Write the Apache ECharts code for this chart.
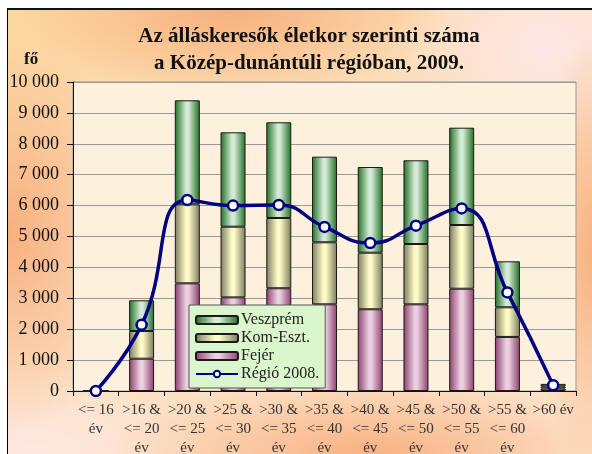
<!DOCTYPE html>
<html>
<head>
<meta charset="utf-8">
<script src="https://cdn.jsdelivr.net/npm/echarts@6/dist/echarts.min.js"></script>
<style>
  html, body { margin: 0; padding: 0; width: 592px; height: 454px; overflow: hidden; background: #fff; }
  #frame {
    position: absolute; left: 7px; top: 8px; width: 585px; height: 446px;
    box-sizing: border-box; border-left: 1px solid #000; border-top: 2px solid #111;
    background:
      radial-gradient(ellipse 140px 200px at 0% 50%, rgba(247,168,118,0.85), rgba(247,168,118,0) 100%),
      radial-gradient(ellipse 220px 90px at 38% 0%, rgba(248,168,118,0.85), rgba(248,168,118,0) 100%),
      radial-gradient(ellipse 260px 80px at 62% 100%, rgba(248,168,118,0.85), rgba(248,168,118,0) 100%),
      radial-gradient(ellipse 60px 220px at 100% 55%, rgba(248,172,120,0.9), rgba(248,172,120,0) 100%),
      radial-gradient(ellipse 160px 120px at 92% 8%, rgba(253,232,236,0.9), rgba(253,232,236,0) 100%),
      radial-gradient(ellipse 160px 90px at 5% 100%, rgba(253,232,228,0.9), rgba(253,232,228,0) 100%),
      linear-gradient(160deg, #fbd8a0 0%, #fce0c0 45%, #fce4cc 100%);
  }
  #chart { width: 584px; height: 444px; }
</style>
</head>
<body>
<div id="frame"><div id="chart"></div></div>
<script>
// adatok
const kategoriak = ['<= 16\név', '>16 &\n<= 20\név', '>20 &\n<= 25\név', '>25 &\n<= 30\név', '>30 &\n<= 35\név',
  '>35 &\n<= 40\név', '>40 &\n<= 45\név', '>45 &\n<= 50\név', '>50 &\n<= 55\név', '>55 &\n<= 60\név', '>60 év'];
const fejer = [0, 1045, 3485, 3030, 3325, 2805, 2645, 2805, 3310, 1750, 80];
const komEszt = [0, 897, 2555, 2287, 2274, 2007, 1831, 1952, 2062, 959, 70];
const veszprem = [0, 993, 3368, 3055, 3097, 2771, 2773, 2709, 3149, 1488, 80];
const regio2008 = [0, 2140, 6180, 6000, 6020, 5310, 4790, 5350, 5910, 3190, 190];

const serif = '"Liberation Serif", "Times New Roman", serif';

// hengeres hatású vízszintes színátmenet
const henger = (szel, kozep) => new echarts.graphic.LinearGradient(0, 0, 1, 0, [
  { offset: 0, color: szel },
  { offset: 0.45, color: kozep },
  { offset: 0.55, color: kozep },
  { offset: 1, color: szel }
]);

const oszlop = (nev, adat, szel, kozep) => ({
  name: nev,
  type: 'bar',
  stack: 'ossz',
  barWidth: 25,
  data: adat,
  itemStyle: { color: henger(szel, kozep), borderColor: '#1a1a1a', borderWidth: 1 }
});

const chart = echarts.init(document.getElementById('chart'));
chart.setOption({
  backgroundColor: 'transparent',
  animation: false,
  title: {
    text: 'Az álláskeresők életkor szerinti száma\na Közép-dunántúli régióban, 2009.',
    left: 296, top: 8, textAlign: 'center',
    textStyle: { fontFamily: serif, fontSize: 21, fontWeight: 'bold', color: '#111', lineHeight: 27 }
  },
  graphic: [{
    type: 'text', left: 16, top: 41,
    style: { text: 'fő', font: 'bold 17px ' + serif, fill: '#111' }
  }],
  legend: {
    orient: 'vertical', left: 181, top: 295,
    data: ['Veszprém', 'Kom-Eszt.', 'Fejér', 'Régió 2008.'],
    backgroundColor: '#daf6cc', borderColor: '#555', borderWidth: 1,
    padding: [7, 6, 6, 6], itemGap: 2, itemWidth: 42, itemHeight: 8,
    textStyle: { fontFamily: serif, fontSize: 16, color: '#222', padding: [0, 0, 0, -2] }
  },
  grid: {
    left: 65, top: 72, right: 16, bottom: 63,
    outerBoundsMode: 'none',
    show: true, backgroundColor: '#fdf1de', borderColor: '#999', borderWidth: 1
  },
  xAxis: {
    type: 'category', data: kategoriak,
    axisLine: { lineStyle: { color: '#111', width: 1 } },
    axisTick: { show: true, length: 5, lineStyle: { color: '#111' } },
    axisLabel: { interval: 0, margin: 10, fontFamily: serif, fontSize: 15, color: '#333', lineHeight: 19 }
  },
  yAxis: {
    type: 'value', min: 0, max: 10000, interval: 1000,
    axisLine: { show: true, lineStyle: { color: '#111' } },
    axisTick: { show: true, length: 6, lineStyle: { color: '#111' } },
    splitLine: { lineStyle: { color: '#999', width: 1 } },
    axisLabel: {
      margin: 14, fontFamily: serif, fontSize: 18, color: '#111',
      formatter: v => v >= 1000 ? Math.floor(v / 1000) + ' 000' : String(v)
    }
  },
  series: [
    oszlop('Fejér', fejer, '#8c3e6e', '#ecd0e0'),
    oszlop('Kom-Eszt.', komEszt, '#7a7a5c', '#fffbc8'),
    oszlop('Veszprém', veszprem, '#1f6e24', '#d4ead4'),
    {
      name: 'Régió 2008.',
      type: 'line',
      smooth: 0.5,
      data: regio2008,
      symbol: 'circle', symbolSize: 10,
      lineStyle: { color: '#000080', width: 3.5 },
      itemStyle: { color: '#fff', borderColor: '#000080', borderWidth: 2.5 },
      z: 5
    }
  ]
});
</script>
</body>
</html>
